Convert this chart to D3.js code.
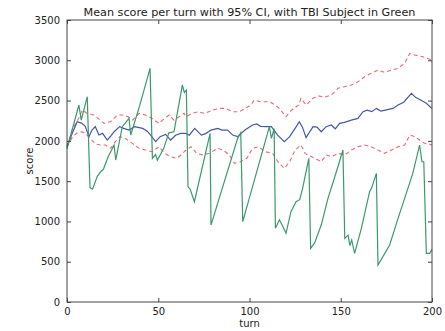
<!DOCTYPE html>
<html>
<head>
<meta charset="utf-8">
<script src="https://cdn.jsdelivr.net/npm/d3@7"></script>
<style>
  body { margin: 0; background: #fff; }
  text { font-family: "DejaVu Sans", sans-serif; fill: #222; }
</style>
</head>
<body>
<div id="chart"></div>
<script>
const blueColor = '#4658a8';
const greenColor = '#3a9a6c';
const redColor = '#ea6a74';

// x ticks / y ticks
const xTicks = [0, 50, 100, 150, 200];
const yTicks = [0, 500, 1000, 1500, 2000, 2500, 3000, 3500];

// mean score per turn (blue)
const meanTurns = [0, 3, 5.6, 8, 10, 12, 13.7, 15.5, 17.5, 19.5, 22, 24, 25.8, 28.9, 31, 34, 37, 41.5, 44, 45.8,
  48.6, 51, 54, 56.8, 59.5, 62.3, 65.2, 67, 70, 73.6, 76, 78.9, 82.6, 85, 88, 90.8, 93.5, 97.5, 101.7, 104,
  106, 109, 112, 115.4, 119.1, 122, 125, 127.3, 129, 131, 134.8, 137, 139.3, 142, 144.8, 147, 149.4, 152, 155.8, 159.4,
  162.2, 164.5, 167, 169.5, 172, 175, 178.6, 181.4, 184.5, 188.7, 191, 193.5, 196.9, 200];
const meanScores = [1930, 2100, 2238, 2220, 2180, 2052, 2134, 2176, 2072, 2093, 2010, 2060, 2113, 2176, 2155, 2134, 2176, 2155, 2120, 2072,
  1990, 2052, 2080, 2010, 2070, 2093, 2093, 2070, 2155, 2072, 2090, 2134, 2155, 2134, 2134, 2072, 2052, 2134, 2197, 2210,
  2180, 2176, 2176, 2072, 1990, 2052, 2155, 2238, 2170, 2040, 2176, 2170, 2113, 2176, 2197, 2150, 2217, 2230, 2258, 2279,
  2362, 2380, 2362, 2403, 2370, 2385, 2403, 2445, 2480, 2590, 2540, 2510, 2466, 2400];

// upper 95% CI (red dashed)
const upperTurns = [0, 3, 5.5, 8.4, 11, 14.8, 17.5, 20.3, 24, 27.6, 30.5, 33.5, 36, 39.5, 43, 46.5, 50.4, 53, 56, 58.5,
  61.5, 64.1, 65.2, 68.5, 71.8, 75.5, 79.8, 83.5, 87, 90.8, 94.5, 97.5, 100.8, 102.6, 106, 111, 114, 116.3, 120, 123,
  127, 128.2, 131, 134.8, 137.5, 141, 144.8, 148.5, 152, 155.8, 159.5, 163.1, 166.7, 170.4, 174, 177.7, 181.4, 185, 187.8, 190.5,
  195, 200];
const upperScores = [1930, 2150, 2238, 2383, 2340, 2320, 2270, 2217, 2240, 2320, 2320, 2300, 2258, 2342, 2320, 2280, 2217, 2270, 2320, 2258,
  2300, 2342, 2300, 2340, 2362, 2340, 2383, 2403, 2403, 2362, 2362, 2403, 2445, 2507, 2486, 2486, 2445, 2403, 2300, 2380,
  2445, 2528, 2445, 2528, 2560, 2540, 2569, 2652, 2672, 2693, 2734, 2796, 2838, 2879, 2850, 2879, 2900, 2962, 3086, 3065,
  3045, 3000];

// lower 95% CI (red dashed)
const lowerTurns = [0, 3, 5.5, 8.4, 11, 13.9, 16, 18.4, 21, 24, 26.5, 29, 32, 35.8, 39.5, 43, 46.5, 50.4, 53.5, 56.8,
  60, 62.5, 65.2, 68, 71, 74.5, 78, 82.6, 85.5, 89, 91.7, 95, 98.5, 101.7, 105, 108.5, 112.7, 115.5, 119.1, 122,
  125, 128.2, 130.5, 132, 135.8, 139.3, 142, 144.8, 148.5, 152.2, 155.8, 159.5, 163.1, 166.7, 170.4, 174, 177.7, 181.4, 185, 187.8,
  190.5, 193.2, 196, 200];
const lowerScores = [1927, 2050, 2100, 2113, 2070, 2000, 1960, 1948, 1948, 1907, 1990, 2052, 2030, 1969, 1907, 1886, 1865, 1927, 1845, 1803,
  1783, 1824, 1886, 1927, 1845, 1824, 1845, 1907, 1886, 1824, 1721, 1740, 1783, 1907, 1927, 1865, 1845, 1741, 1659, 1741,
  1886, 1948, 1845, 1824, 1783, 1741, 1824, 1803, 1845, 1824, 1886, 1927, 1948, 1927, 1886, 1845, 1886, 1927, 1948, 2072,
  2052, 2010, 1969, 1950];

// TBI subject (green)
const tbiTurns = [0, 3, 6.5, 7.8, 11.1, 12.6, 14, 16.6, 18.5, 20, 22.5, 25.8, 26.7, 30.3, 34, 34.9, 40, 45.5, 46.8, 48.5,
  49.5, 53, 55.8, 58.6, 63.2, 64.3, 65.4, 66.3, 67.5, 69.8, 78.4, 78.9, 93.5, 95.2, 96.3, 110.9, 112, 113.5, 114.2, 116.4,
  118, 120, 122.7, 125.5, 127.5, 129.1, 132.5, 133.5, 135.8, 139.3, 143, 147.6, 151.2, 152.2, 154, 155, 156, 157.6, 161.3, 165.8,
  167, 169.5, 170.4, 176.8, 181.4, 186.8, 189.5, 193.2, 194.5, 195.5, 196.9, 198.7, 200];
const tbiScores = [1900, 2150, 2445, 2258, 2548, 1420, 1400, 1560, 1617, 1650, 1800, 1948, 1762, 2176, 2279, 2073, 2450, 2900, 1783, 1830,
  1760, 1907, 2100, 2113, 2693, 2600, 2630, 1431, 1400, 1245, 2093, 955, 2031, 2100, 997, 2176, 2030, 2150, 914, 1020,
  950, 853, 1121, 1245, 1270, 1411, 1783, 666, 740, 955, 1287, 1617, 1886, 790, 830, 700, 770, 604, 914, 1369,
  1420, 1597, 459, 707, 1038, 1411, 1600, 1948, 1741, 1741, 604, 604, 650];

const width = 445, height = 331;
const margin = {top: 20, right: 13, bottom: 29, left: 67};
const w = width - margin.left - margin.right;
const h = height - margin.top - margin.bottom;

const svg = d3.select('#chart').append('svg')
    .attr('width', width)
    .attr('height', height);

const g = svg.append('g').attr('transform', `translate(${margin.left},${margin.top})`);

const x = d3.scaleLinear().domain([0, 200]).range([0, w]);
const y = d3.scaleLinear().domain([0, 3500]).range([h, 0]);

function pairs(turns, scores) {
    return turns.map((t, i) => [t, scores[i]]);
}

const line = d3.line().x(d => x(d[0])).y(d => y(d[1]));

g.append('path').datum(pairs(upperTurns, upperScores))
    .attr('d', line).attr('fill', 'none')
    .attr('stroke', redColor).attr('stroke-width', 1.1).attr('stroke-dasharray', '4,3');
g.append('path').datum(pairs(lowerTurns, lowerScores))
    .attr('d', line).attr('fill', 'none')
    .attr('stroke', redColor).attr('stroke-width', 1.1).attr('stroke-dasharray', '4,3');
g.append('path').datum(pairs(meanTurns, meanScores))
    .attr('d', line).attr('fill', 'none')
    .attr('stroke', blueColor).attr('stroke-width', 1.2);
g.append('path').datum(pairs(tbiTurns, tbiScores))
    .attr('d', line).attr('fill', 'none')
    .attr('stroke', greenColor).attr('stroke-width', 1.2);

// axes, matplotlib style: ticks inward on all four sides
const tickLen = 4;
const fmt = d3.format('d');
g.append('g').attr('transform', `translate(0,${h})`)
    .call(d3.axisBottom(x).tickValues(xTicks).tickFormat(fmt).tickSizeInner(-tickLen).tickSizeOuter(0).tickPadding(6))
    .call(a => a.select('.domain').remove());
g.append('g')
    .call(d3.axisTop(x).tickValues(xTicks).tickSizeInner(-tickLen).tickSizeOuter(0).tickFormat(''))
    .call(a => a.select('.domain').remove());
g.append('g')
    .call(d3.axisLeft(y).tickValues(yTicks).tickFormat(fmt).tickSizeInner(-tickLen).tickSizeOuter(0).tickPadding(7))
    .call(a => a.select('.domain').remove());
g.append('g').attr('transform', `translate(${w},0)`)
    .call(d3.axisRight(y).tickValues(yTicks).tickSizeInner(-tickLen).tickSizeOuter(0).tickFormat(''))
    .call(a => a.select('.domain').remove());

g.selectAll('.tick line').attr('stroke', '#444');
g.selectAll('.tick text').attr('font-size', 10).attr('font-family', '"DejaVu Sans", sans-serif').attr('fill', '#333');

g.append('rect')
    .attr('width', w).attr('height', h)
    .attr('fill', 'none').attr('stroke', '#444').attr('stroke-width', 1);

svg.append('text')
    .attr('x', margin.left + w / 2).attr('y', 16)
    .attr('text-anchor', 'middle').attr('font-size', 11.2)
    .text('Mean score per turn with 95% CI, with TBI Subject in Green');

svg.append('text')
    .attr('x', margin.left + w / 2).attr('y', 327)
    .attr('text-anchor', 'middle').attr('font-size', 10)
    .text('turn');

svg.append('text')
    .attr('transform', `translate(33,${margin.top + h / 2}) rotate(-90)`)
    .attr('text-anchor', 'middle').attr('font-size', 10)
    .text('score');
</script>
</body>
</html>
